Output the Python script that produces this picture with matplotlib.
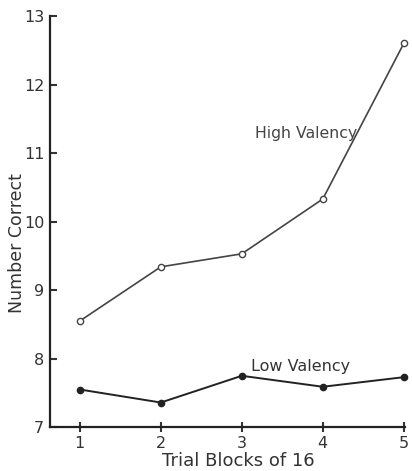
import matplotlib.pyplot as plt
import matplotlib as mpl

mpl.rc('font', family='DejaVu Sans', size=10)
mpl.rc('axes', linewidth=1.6, edgecolor="#222222", labelcolor="#333333")
mpl.rc('xtick', color="#333333", labelsize=11.5)
mpl.rc('ytick', color="#333333", labelsize=11.5)

# Data
blocks = [1, 2, 3, 4, 5]
high_valency = [8.55, 9.34, 9.53, 10.33, 12.6]
low_valency = [7.55, 7.36, 7.75, 7.59, 7.73]
y_ticks = [7, 8, 9, 10, 11, 12, 13]

fig = plt.figure(figsize=(4.12, 4.71), dpi=100)
ax = fig.add_axes([0.121, 0.093, 0.863, 0.873])

line_col = "#444444"
ax.plot(blocks, high_valency, color=line_col, lw=1.2, marker='o', ms=4.5,
        mfc='white', mec=line_col, mew=1.0, clip_on=False)
ax.plot(blocks, low_valency, color="#222222", lw=1.4, marker='o', ms=4.5,
        mfc="#222222", mec="#222222", clip_on=False)

ax.text(3.16, 11.29, "High Valency", fontsize=11.3, color="#444444", va='center')
ax.text(3.11, 7.88, "Low Valency", fontsize=11.5, color="#333333", va='center')

ax.set_xlim(0.63, 5.02)
ax.set_ylim(7, 13)
ax.set_xticks(blocks)
ax.set_yticks(y_ticks)
ax.tick_params(axis='y', direction='in', length=5, width=1.5, pad=4)
ax.tick_params(axis='x', direction='inout', length=7, width=1.5, pad=3)

ax.set_xlabel("Trial Blocks of 16", fontsize=13, va='center')
ax.set_ylabel("Number Correct", fontsize=12.5, va='center')
ax.xaxis.set_label_coords(0.53, -0.083)
ax.yaxis.set_label_coords(-0.093, 0.448)

ax.spines['right'].set_visible(False)
ax.spines['top'].set_visible(False)

fig.savefig("out.png", dpi=100)
